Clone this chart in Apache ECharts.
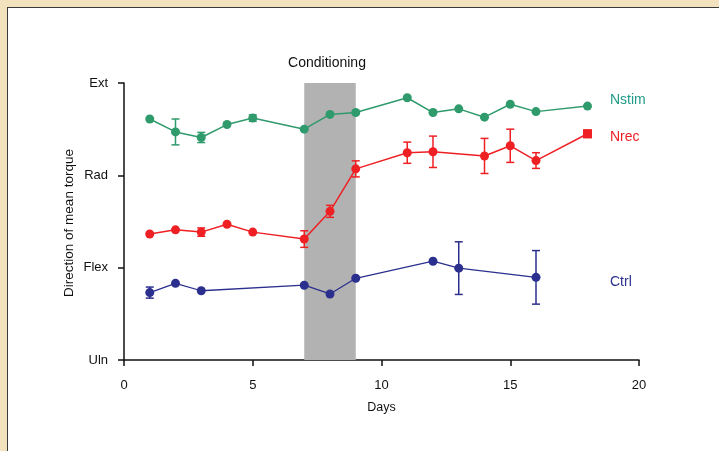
<!DOCTYPE html>
<html>
<head>
<meta charset="utf-8">
<script src="https://cdn.jsdelivr.net/npm/echarts@6/dist/echarts.min.js"></script>
<style>
  html, body { margin: 0; padding: 0; }
  body { width: 719px; height: 451px; background: #f3e2be; position: relative; overflow: hidden; }
  #panel { position: absolute; left: 7px; top: 7px; width: 730px; height: 460px;
           background: #ffffff; border-left: 1.5px solid #3a3a3a; border-top: 1.5px solid #3a3a3a; }
  #chart { position: absolute; left: 0; top: 0; width: 719px; height: 451px; }
</style>
</head>
<body>
<div id="panel"></div>
<div id="chart"></div>
<script>
// Torque direction categories on the y axis (0..3)
const directionLabels = ['Uln', 'Flex', 'Rad', 'Ext'];

// Conditioning period (days)
const conditioning = [7, 9];

// Nstim group
const nstimDays = [1, 2, 3, 4, 5, 7, 8, 9, 11, 12, 13, 14, 15, 16, 18];
const nstimMean = [2.61, 2.47, 2.41, 2.55, 2.62, 2.50, 2.66, 2.68, 2.84, 2.68, 2.72, 2.63, 2.77, 2.69, 2.75];
const nstimSem  = [0, 0.14, 0.055, 0, 0.035, 0, 0, 0, 0, 0, 0, 0, 0, 0, 0];

// Nrec group
const nrecDays = [1, 2, 3, 4, 5, 7, 8, 9, 11, 12, 14, 15, 16, 18];
const nrecMean = [1.365, 1.41, 1.385, 1.47, 1.385, 1.31, 1.61, 2.07, 2.245, 2.255, 2.21, 2.32, 2.16, 2.45];
const nrecSem  = [0, 0, 0.045, 0, 0, 0.09, 0.065, 0.087, 0.115, 0.17, 0.19, 0.18, 0.085, 0.04];

// Ctrl group
const ctrlDays = [1, 2, 3, 7, 8, 9, 12, 13, 16];
const ctrlMean = [0.73, 0.83, 0.75, 0.81, 0.715, 0.885, 1.07, 0.995, 0.895];
const ctrlSem  = [0.06, 0, 0, 0, 0, 0, 0, 0.285, 0.29];

const GREEN = '#2f9a6c', RED = '#ee2024', BLUE = '#2b2f8e';
const FONT = 'Liberation Sans';

function points(days, mean) { return days.map((d, i) => [d, mean[i]]); }
function bars(days, mean, sem) {
  return days.map((d, i) => [d, mean[i] - sem[i], mean[i] + sem[i]]).filter((r, i) => sem[i] > 0);
}

function errorSeries(data, color) {
  return {
    type: 'custom',
    z: 3,
    silent: true,
    data: data,
    renderItem: function (params, api) {
      const lo = api.coord([api.value(0), api.value(1)]);
      const hi = api.coord([api.value(0), api.value(2)]);
      const w = 4;
      const style = { stroke: color, lineWidth: 1.5, fill: null };
      return {
        type: 'group',
        children: [
          { type: 'line', shape: { x1: lo[0], y1: lo[1], x2: hi[0], y2: hi[1] }, style: style },
          { type: 'line', shape: { x1: lo[0] - w, y1: lo[1], x2: lo[0] + w, y2: lo[1] }, style: style },
          { type: 'line', shape: { x1: hi[0] - w, y1: hi[1], x2: hi[0] + w, y2: hi[1] }, style: style }
        ]
      };
    }
  };
}

function lineSeries(data, color, width) {
  return {
    type: 'line',
    z: 4,
    data: data,
    symbol: 'circle',
    symbolSize: 9,
    itemStyle: { color: color },
    lineStyle: { color: color, width: width },
    animation: false
  };
}

const nrecPoints = points(nrecDays, nrecMean).map((p, i, arr) =>
  i === arr.length - 1 ? { value: p, symbol: 'rect', symbolSize: 9 } : p);

const chart = echarts.init(document.getElementById('chart'), null, { renderer: 'canvas' });
chart.setOption({
  animation: false,
  backgroundColor: 'transparent',
  textStyle: { fontFamily: FONT },
  grid: { left: 124, right: 80, top: 83, bottom: 91 },
  xAxis: {
    type: 'value', min: 0, max: 20, interval: 5,
    name: 'Days', nameLocation: 'middle', nameGap: 41,
    nameTextStyle: { color: '#111', fontSize: 12.5, fontFamily: FONT },
    axisLine: { lineStyle: { color: '#111', width: 1.5 } },
    axisTick: { show: true, length: 6, lineStyle: { color: '#111', width: 1.5 } },
    axisLabel: { color: '#111', fontSize: 13, margin: 19, fontFamily: FONT },
    splitLine: { show: false }
  },
  yAxis: {
    type: 'value', min: 0, max: 3, interval: 1,
    axisLine: { show: true, lineStyle: { color: '#111', width: 1.5 } },
    axisTick: { show: true, length: 6, lineStyle: { color: '#111', width: 1.5 } },
    axisLabel: { color: '#111', fontSize: 13, margin: 16, fontFamily: FONT,
                 formatter: v => directionLabels[v] },
    splitLine: { show: false }
  },
  graphic: [
    { type: 'text', x: 69, y: 223, rotation: Math.PI / 2,
      style: { text: 'Direction of mean torque', fill: '#111', font: '13.5px "Liberation Sans"',
               align: 'center', verticalAlign: 'middle' } },
    { type: 'text', x: 610, y: 100, style: { text: 'Nstim', fill: '#1f9a86', font: '14px "Liberation Sans"', verticalAlign: 'middle' } },
    { type: 'text', x: 610, y: 137, style: { text: 'Nrec', fill: RED, font: '14px "Liberation Sans"', verticalAlign: 'middle' } },
    { type: 'text', x: 610, y: 282, style: { text: 'Ctrl', fill: BLUE, font: '14px "Liberation Sans"', verticalAlign: 'middle' } }
  ],
  series: [
    {
      type: 'custom',
      z: 1,
      silent: true,
      data: [[conditioning[0], conditioning[1]]],
      renderItem: function (params, api) {
        const a = api.coord([api.value(0), 3]);
        const b = api.coord([api.value(1), 0]);
        return {
          type: 'group',
          children: [
            { type: 'rect', shape: { x: a[0], y: a[1], width: b[0] - a[0], height: b[1] - a[1] },
              style: { fill: '#b2b2b2' } },
            { type: 'text', x: (a[0] + b[0]) / 2 - 3, y: a[1] - 20,
              style: { text: 'Conditioning', fill: '#111', font: '14px "Liberation Sans"',
                       align: 'center', verticalAlign: 'middle' } }
          ]
        };
      }
    },
    errorSeries(bars(nstimDays, nstimMean, nstimSem), GREEN),
    errorSeries(bars(nrecDays, nrecMean, nrecSem), RED),
    errorSeries(bars(ctrlDays, ctrlMean, ctrlSem), BLUE),
    lineSeries(points(nstimDays, nstimMean), GREEN, 1.5),
    lineSeries(nrecPoints, RED, 1.5),
    lineSeries(points(ctrlDays, ctrlMean), BLUE, 1.3)
  ]
});
</script>
</body>
</html>
